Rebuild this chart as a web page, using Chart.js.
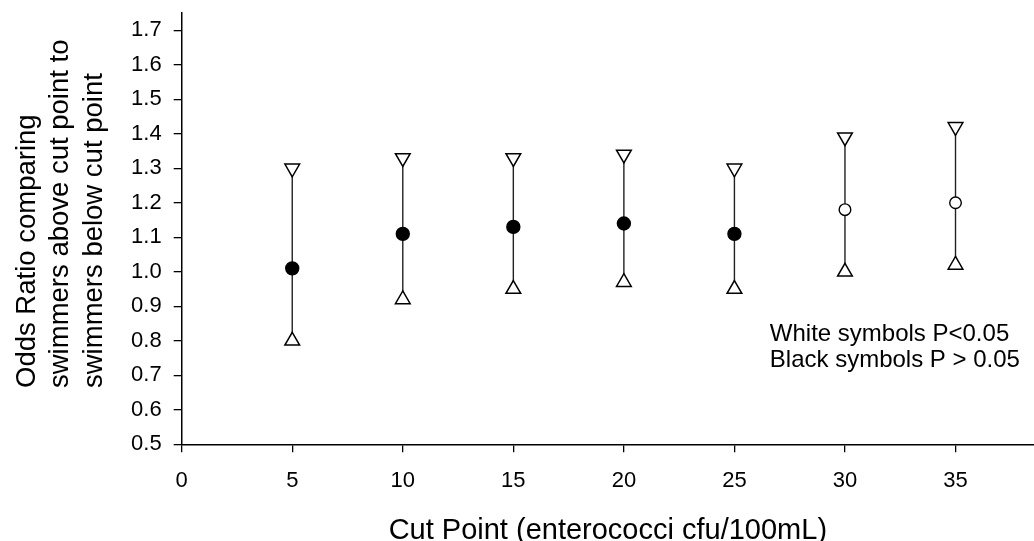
<!DOCTYPE html>
<html>
<head>
<meta charset="utf-8">
<script src="https://cdn.jsdelivr.net/npm/chart.js@4.4.1/dist/chart.umd.min.js"></script>
<style>
html, body { margin: 0; padding: 0; background: #fff; }
#wrap { width: 1034px; height: 541px; position: relative; }
</style>
</head>
<body>
<div id="wrap"><canvas id="myChart"></canvas></div>
<script>
// values
var cutPoints = [5, 10, 15, 20, 25, 30, 35]
var oddsRatio = [1.01, 1.11, 1.13, 1.14, 1.11, 1.18, 1.20]
var upperCI = [1.30, 1.33, 1.33, 1.34, 1.30, 1.39, 1.42]
var lowerCI = [0.80, 0.92, 0.95, 0.97, 0.95, 1.00, 1.02]
var significant = [false, false, false, false, false, true, true]

var xTicks = [0, 5, 10, 15, 20, 25, 30, 35]
var yTicks = [0.5, 0.6, 0.7, 0.8, 0.9, 1.0, 1.1, 1.2, 1.3, 1.4, 1.5, 1.6, 1.7]

var xTitle = "Cut Point (enterococci cfu/100mL)"
var yTitle = ["Odds Ratio comparing", "swimmers above cut point to", "swimmers below cut point"]
var noteLines = ["White symbols P<0.05", "Black symbols P > 0.05"]
var notePos = {x: 26.6, y: 0.80}

var FONT = '"Liberation Sans", Arial, sans-serif'
Chart.defaults.font.family = FONT
Chart.defaults.color = '#000'

function pts(ys) {
	return cutPoints.map(function (c, i) { return {x: c, y: ys[i]} })
}

var datasets = []

// markers on top
datasets.push({
	label: 'upper',
	data: pts(upperCI),
	pointStyle: 'triangle',
	pointRotation: 180,
	pointRadius: 8.5,
	pointBackgroundColor: '#fff',
	pointBorderColor: '#000',
	pointBorderWidth: 1.5,
	order: 0
})
datasets.push({
	label: 'lower',
	data: pts(lowerCI),
	pointStyle: 'triangle',
	pointRotation: 0,
	pointRadius: 8.5,
	pointBackgroundColor: '#fff',
	pointBorderColor: '#000',
	pointBorderWidth: 1.5,
	order: 0
})
datasets.push({
	label: 'odds ratio',
	data: pts(oddsRatio),
	pointStyle: 'circle',
	pointRadius: significant.map(function (s) { return s ? 5.8 : 6.5 }),
	pointBackgroundColor: significant.map(function (s) { return s ? '#fff' : '#000' }),
	pointBorderColor: '#000',
	pointBorderWidth: 1.4,
	order: 0
})

// error bars, one small line per cut point
cutPoints.forEach(function (c, i) {
	datasets.push({
		label: 'ci ' + c,
		data: [{x: c, y: lowerCI[i]}, {x: c, y: upperCI[i]}],
		showLine: true,
		borderColor: '#222',
		borderWidth: 1.4,
		pointRadius: 0,
		order: 1
	})
})

// y title (lines start at the same height, like the original) and the P note
var textPlugin = {
	id: 'texts',
	afterDraw: function (chart) {
		var ctx = chart.ctx
		var ys = chart.scales.y, xs = chart.scales.x
		ctx.save()
		ctx.fillStyle = '#000'

		ctx.font = '27.5px ' + FONT
		ctx.textAlign = 'left'
		ctx.textBaseline = 'middle'
		yTitle.forEach(function (t, i) {
			ctx.save()
			ctx.translate(ys.left + 27 + i * 33.5, 388)
			ctx.rotate(-Math.PI / 2)
			ctx.fillText(t, 0, 0)
			ctx.restore()
		})

		ctx.font = '24px ' + FONT
		ctx.textBaseline = 'alphabetic'
		var x = xs.getPixelForValue(notePos.x)
		var y = ys.getPixelForValue(notePos.y)
		noteLines.forEach(function (t, i) {
			ctx.fillText(t, x, y + i * 26.7)
		})
		ctx.restore()
	}
}

var ctx = document.getElementById("myChart")
var myChart = new Chart(ctx, {
	type: 'scatter',
	data: {datasets: datasets},
	plugins: [textPlugin],
	options: {
		animation: false,
		responsive: true,
		maintainAspectRatio: false,
		layout: {autoPadding: false, padding: {top: 13, right: 0, left: 0, bottom: 0}},
		plugins: {
			legend: {display: false},
			tooltip: {enabled: false}
		},
		scales: {
			x: {
				type: 'linear',
				min: 0,
				max: 38.55,
				afterBuildTicks: function (scale) {
					scale.ticks = xTicks.map(function (v) { return {value: v} })
				},
				afterFit: function (scale) {
					scale.height = 96.7
					scale.paddingLeft = 0
					scale.paddingRight = 0
				},
				ticks: {
					font: {size: 22},
					color: '#000',
					padding: 15,
					maxRotation: 0,
					callback: function (v) { return String(v) }
				},
				grid: {drawOnChartArea: false, drawTicks: true, tickLength: 8, color: '#000', lineWidth: 1.3},
				border: {display: true, color: '#000', width: 1.5},
				title: {
					display: true,
					text: xTitle,
					font: {size: 29, lineHeight: 1},
					color: '#000',
					padding: {top: 0, bottom: -4}
				}
			},
			y: {
				type: 'linear',
				min: 0.5,
				max: 1.75,
				afterBuildTicks: function (scale) {
					scale.ticks = yTicks.map(function (v) { return {value: v} })
				},
				afterFit: function (scale) {
					scale.width = 181.7
					scale.paddingTop = 0
					scale.paddingBottom = 0
				},
				ticks: {
					font: {size: 22},
					color: '#000',
					padding: 12,
					callback: function (v) { return Number(v).toFixed(1) }
				},
				grid: {drawOnChartArea: false, drawTicks: true, tickLength: 8, color: '#000', lineWidth: 1.3},
				border: {display: true, color: '#000', width: 1.5}
			}
		}
	}
})
</script>
</body>
</html>
